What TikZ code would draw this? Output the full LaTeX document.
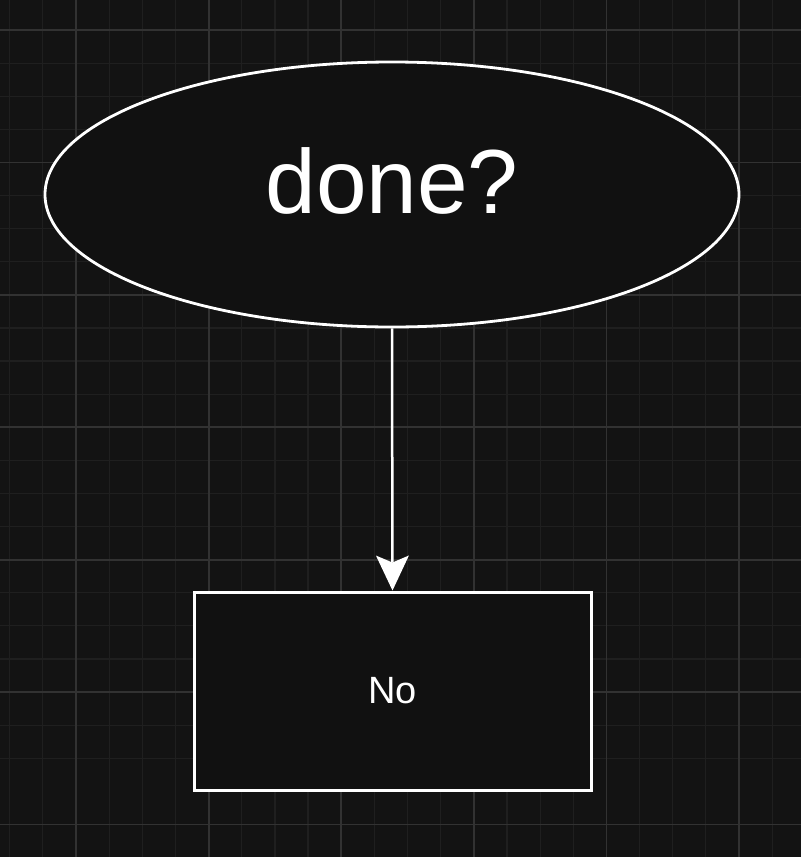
\documentclass[tikz,border=0pt]{standalone}
\usepackage{fontspec}
\setmainfont{Liberation Sans}
\usetikzlibrary{shapes.geometric,arrows.meta}
\definecolor{bgc}{HTML}{131313}
\definecolor{fillc}{HTML}{111111}
\definecolor{gridminor}{HTML}{1F1F1F}
\definecolor{gridmajor}{HTML}{323232}
\begin{document}
\begin{tikzpicture}[x=1pt,y=-1pt,
  minorline/.style={draw=gridminor,line width=1.2pt},
  majorline/.style={draw=gridmajor,line width=1.8pt},
  decision/.style={ellipse,draw=white,line width=2.8pt,fill=fillc,text=white,
    minimum width=694pt,minimum height=265pt,inner sep=0pt,
    text height=64pt,text depth=26pt,
    font=\fontsize{91}{91}\selectfont},
  outcome/.style={rectangle,draw=white,line width=3pt,fill=fillc,text=white,
    minimum width=397pt,minimum height=198pt,inner sep=0pt,
    font=\fontsize{38}{38}\selectfont},
  flow/.style={draw=white,line width=2.5pt,
    -{Stealth[length=35pt,width=33pt,inset=7pt,line width=0pt]}}]
\fill[bgc] (0,0) rectangle (801,857);
\useasboundingbox (0,0) rectangle (801,857);
\foreach \i in {-3,...,22} {
  \path[minorline] ({76+33.15*\i},0) -- ++(0,857);
  \path[minorline] (0,{30+33.1*\i}) -- ++(801,0);
}
\foreach \i in {-1,...,6} {
  \path[majorline] ({76+132.6*\i},0) -- ++(0,857);
  \path[majorline] (0,{30+132.4*\i}) -- ++(801,0);
}
\node[decision] (q) at (392,194.5) {done?};
\node[outcome] (no) at (392.5,691) {No};
\draw[flow] (q.south) -- (no.north);
\end{tikzpicture}
\end{document}
